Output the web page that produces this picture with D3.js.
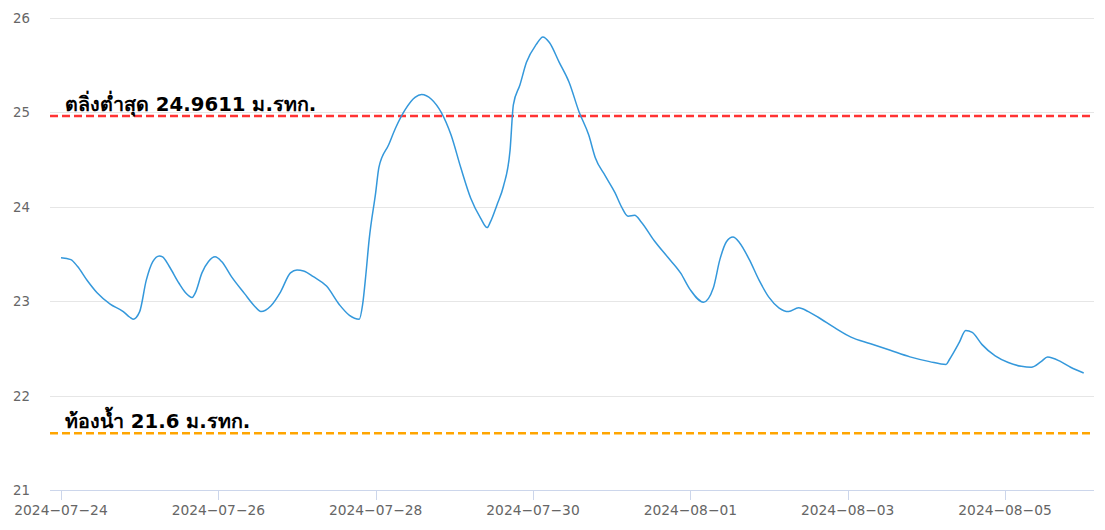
<!DOCTYPE html>
<html>
<head>
<meta charset="utf-8">
<script src="https://cdn.jsdelivr.net/npm/d3@7"></script>
<style>
  html, body { margin: 0; padding: 0; background: #fff; }
  svg { display: block; }
</style>
</head>
<body>
<svg id="chart" width="1105" height="530"></svg>
<script>
// ---- data ----
const times = [
  "2024-07-24 00:00","2024-07-24 03:00","2024-07-24 05:00","2024-07-24 08:00","2024-07-24 11:00","2024-07-24 15:00","2024-07-24 19:00","2024-07-24 21:00","2024-07-24 22:00",
  "2024-07-25 00:00","2024-07-25 02:00","2024-07-25 04:00","2024-07-25 06:00","2024-07-25 07:00","2024-07-25 09:00","2024-07-25 12:00","2024-07-25 14:00","2024-07-25 16:00","2024-07-25 17:00","2024-07-25 19:00","2024-07-25 21:00","2024-07-25 23:00",
  "2024-07-26 01:00","2024-07-26 04:00","2024-07-26 08:00","2024-07-26 11:00","2024-07-26 13:00","2024-07-26 16:00","2024-07-26 19:00","2024-07-26 22:00",
  "2024-07-27 00:00","2024-07-27 02:00","2024-07-27 05:00","2024-07-27 09:00","2024-07-27 13:00","2024-07-27 16:00","2024-07-27 19:00","2024-07-27 20:00","2024-07-27 21:00","2024-07-27 22:00",
  "2024-07-28 00:00","2024-07-28 01:00","2024-07-28 04:00","2024-07-28 06:00","2024-07-28 09:00","2024-07-28 12:00","2024-07-28 14:00","2024-07-28 17:00","2024-07-28 20:00","2024-07-28 23:00",
  "2024-07-29 02:00","2024-07-29 05:00","2024-07-29 08:00","2024-07-29 10:00","2024-07-29 11:00","2024-07-29 13:00","2024-07-29 15:00","2024-07-29 17:00","2024-07-29 18:00","2024-07-29 20:00","2024-07-29 22:00",
  "2024-07-30 01:00","2024-07-30 03:00","2024-07-30 05:00","2024-07-30 08:00","2024-07-30 11:00","2024-07-30 14:00","2024-07-30 17:00","2024-07-30 19:00","2024-07-30 22:00",
  "2024-07-31 01:00","2024-07-31 03:00","2024-07-31 05:00","2024-07-31 07:00","2024-07-31 09:00","2024-07-31 13:00","2024-07-31 17:00","2024-07-31 21:00",
  "2024-08-01 00:00","2024-08-01 04:00","2024-08-01 07:00","2024-08-01 09:00","2024-08-01 11:00","2024-08-01 13:00","2024-08-01 15:00","2024-08-01 18:00","2024-08-01 21:00",
  "2024-08-02 00:00","2024-08-02 03:00","2024-08-02 06:00","2024-08-02 09:00","2024-08-02 12:00","2024-08-02 15:00","2024-08-02 20:00",
  "2024-08-03 01:00","2024-08-03 07:00","2024-08-03 13:00","2024-08-03 19:00",
  "2024-08-04 01:00","2024-08-04 06:00","2024-08-04 07:00","2024-08-04 10:00","2024-08-04 12:00","2024-08-04 14:00","2024-08-04 17:00","2024-08-04 21:00",
  "2024-08-05 01:00","2024-08-05 05:00","2024-08-05 08:00","2024-08-05 11:00","2024-08-05 13:00","2024-08-05 17:00","2024-08-05 20:00",
  "2024-08-06 00:00"
];
const levels = [
  23.46,23.44,23.37,23.22,23.09,22.97,22.89,22.83,22.81,
  22.89,23.22,23.42,23.48,23.47,23.37,23.19,23.09,23.04,23.09,23.30,23.42,23.47,
  23.42,23.26,23.08,22.95,22.89,22.95,23.10,23.30,
  23.33,23.32,23.26,23.16,22.96,22.85,22.81,22.96,23.28,23.65,
  24.15,24.42,24.66,24.83,25.03,25.16,25.19,25.14,25.00,24.76,
  24.41,24.09,23.88,23.78,23.84,24.02,24.22,24.60,25.08,25.29,25.53,
  25.72,25.80,25.74,25.53,25.32,25.01,24.76,24.52,24.33,
  24.15,24.00,23.90,23.91,23.84,23.64,23.47,23.30,
  23.12,22.99,23.14,23.44,23.63,23.68,23.62,23.44,23.22,
  23.04,22.93,22.89,22.93,22.89,22.83,22.72,
  22.62,22.55,22.48,22.41,
  22.36,22.33,22.38,22.56,22.69,22.67,22.54,22.42,
  22.35,22.31,22.30,22.36,22.41,22.36,22.30,
  22.24
];
const yTicks = [21, 22, 23, 24, 25, 26];
const xTickLabels = ["2024-07-24","2024-07-26","2024-07-28","2024-07-30","2024-08-01","2024-08-03","2024-08-05"];
const refLines = [
  { value: 24.9611, label: "ตลิ่งต่ำสุด 24.9611 ม.รทก.", color: "#ff3333" },
  { value: 21.6, label: "ท้องน้ำ 21.6 ม.รทก.", color: "#ffa500" }
];

// ---- layout ----
const plotLeft = 50, plotRight = 1094, plotTop = 18, plotBottom = 490;
const parse = d3.timeParse("%Y-%m-%d %H:%M");
const parseDay = d3.timeParse("%Y-%m-%d");
const data = times.map((t, i) => ({ t: parse(t), v: levels[i] }));

const x = d3.scaleTime()
  .domain([parse("2024-07-24 00:00"), parse("2024-08-06 00:00")])
  .range([61, 1083.7]);
const y = d3.scaleLinear().domain([21, 26]).range([plotBottom, plotTop]);

const svg = d3.select("#chart");
const font = "'DejaVu Sans', sans-serif";

// grid lines
svg.append("g").selectAll("line").data(yTicks.filter(d => d !== 21)).join("line")
  .attr("x1", plotLeft).attr("x2", plotRight)
  .attr("y1", d => Math.round(y(d)) + 0.5).attr("y2", d => Math.round(y(d)) + 0.5)
  .attr("stroke", "#e6e6e6").attr("stroke-width", 1);

// y labels
svg.append("g").selectAll("text").data(yTicks).join("text")
  .attr("x", 30).attr("y", d => y(d) + 5)
  .attr("text-anchor", "end")
  .attr("font-family", font).attr("font-size", 13.3).attr("fill", "#666666")
  .text(d => d);

// x axis line
svg.append("line")
  .attr("x1", plotLeft).attr("x2", plotRight)
  .attr("y1", plotBottom + 0.5).attr("y2", plotBottom + 0.5)
  .attr("stroke", "#ccd6eb").attr("stroke-width", 1);

// x ticks
const xt = svg.append("g");
xt.selectAll("line").data(xTickLabels).join("line")
  .attr("x1", d => Math.round(x(parseDay(d))) + 0.5).attr("x2", d => Math.round(x(parseDay(d))) + 0.5)
  .attr("y1", plotBottom).attr("y2", plotBottom + 10)
  .attr("stroke", "#ccd6eb").attr("stroke-width", 1);
xt.selectAll("text").data(xTickLabels).join("text")
  .attr("x", d => x(parseDay(d))).attr("y", 515)
  .attr("text-anchor", "middle")
  .attr("font-family", font).attr("font-size", 13.8).attr("fill", "#666666")
  .text(d => d.replace(/-/g, "\u2212"));

// reference lines
const rl = svg.append("g");
rl.selectAll("line").data(refLines).join("line")
  .attr("x1", plotLeft).attr("x2", plotRight)
  .attr("y1", d => y(d.value)).attr("y2", d => y(d.value))
  .attr("stroke", d => d.color).attr("stroke-width", 2.5)
  .attr("stroke-dasharray", "8,4");
rl.selectAll("text").data(refLines).join("text")
  .attr("x", 65).attr("y", d => y(d.value) - 5)
  .attr("font-family", font).attr("font-size", 19.7).attr("font-weight", "bold")
  .attr("fill", "#000")
  .text(d => d.label);

// series line
const line = d3.line().x(d => x(d.t)).y(d => y(d.v)).curve(d3.curveMonotoneX);
svg.append("path").datum(data)
  .attr("d", line)
  .attr("fill", "none")
  .attr("stroke", "#3498db").attr("stroke-width", 1.5);
</script>
</body>
</html>
